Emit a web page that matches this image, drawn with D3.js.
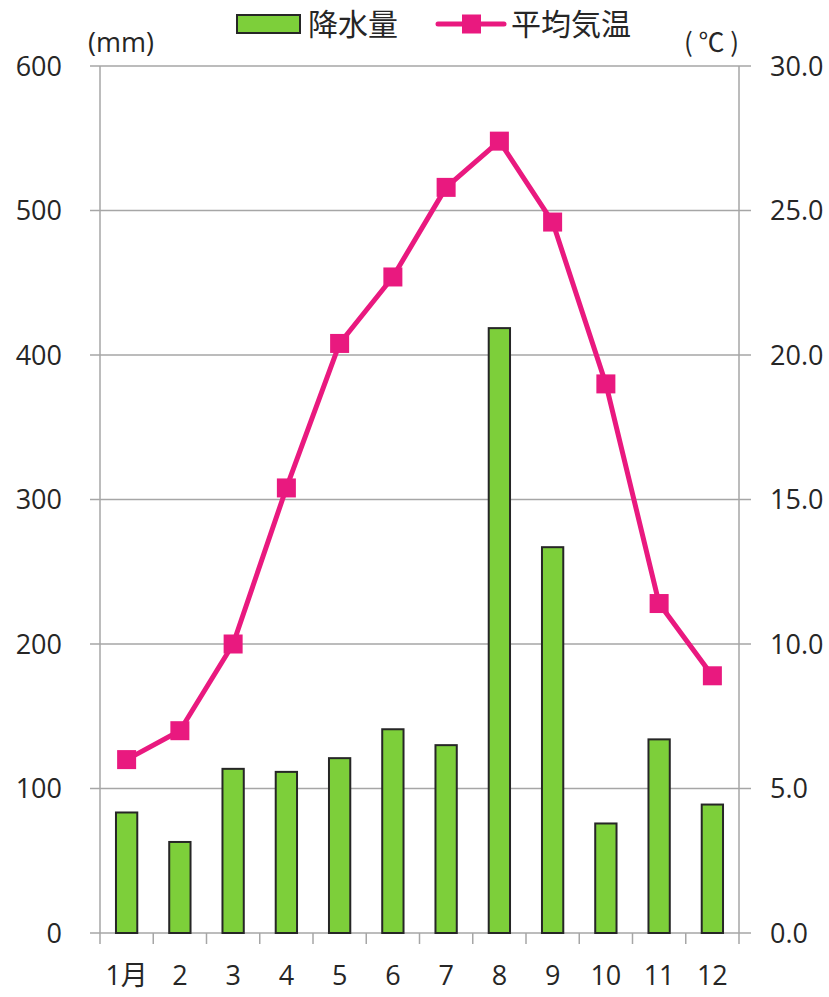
<!DOCTYPE html>
<html>
<head>
<meta charset="utf-8">
<script src="https://cdn.jsdelivr.net/npm/d3@7"></script>
<style>
  body { margin: 0; background: #fff; }
  text { font-family: "Open Sans", "Noto Sans CJK JP", sans-serif; fill: #262626; }
  text.cjk { font-family: "Noto Sans CJK JP", sans-serif; }
</style>
</head>
<body>
<div id="plot"></div>
<script>
// data
const months = ["1月", "2", "3", "4", "5", "6", "7", "8", "9", "10", "11", "12"];
const rain = [83.4, 63, 113.6, 111.5, 121, 141, 130, 418.6, 267, 75.8, 134, 88.9];
const temp = [6.0, 7.0, 10.0, 15.4, 20.4, 22.7, 25.8, 27.4, 24.6, 19.0, 11.4, 8.9];
const rainTicks = [0, 100, 200, 300, 400, 500, 600];
const tempTicks = [0, 5, 10, 15, 20, 25, 30];

const margin = { top: 66, right: 90, bottom: 64, left: 100 };
const W = 829, H = 997;
const width = W - margin.left - margin.right;
const height = H - margin.top - margin.bottom;

const green = "#7dcf3a", pink = "#e9197f", grid = "#a6a6a6";

const svg = d3.select("#plot").append("svg")
    .attr("width", W)
    .attr("height", H);

const g = svg.append("g")
    .attr("transform", `translate(${margin.left},${margin.top})`);

// scales
const x = d3.scaleBand()
    .domain(months)
    .range([0, width])
    .paddingInner(0.6)
    .paddingOuter(0.3);

const yL = d3.scaleLinear().domain([0, 600]).range([height, 0]);
const yR = d3.scaleLinear().domain([0, 30]).range([height, 0]);

// gridlines (with the outward ticks on both sides)
g.append("g").selectAll("line")
  .data(rainTicks)
  .join("line")
    .attr("x1", -10).attr("x2", width + 12)
    .attr("y1", d => yL(d)).attr("y2", d => yL(d))
    .attr("stroke", grid).attr("stroke-width", 1.5);

// vertical axes
g.append("line")
    .attr("x1", 0).attr("x2", 0).attr("y1", 0).attr("y2", height + 11)
    .attr("stroke", grid).attr("stroke-width", 1.5);
g.append("line")
    .attr("x1", width).attr("x2", width).attr("y1", 0).attr("y2", height + 11)
    .attr("stroke", grid).attr("stroke-width", 1.5);

// category boundary ticks on x axis
const bounds = months.map(m => x(m) - x.step() * x.paddingInner() / 2);
g.append("g").selectAll("line")
  .data(bounds.slice(1))
  .join("line")
    .attr("x1", d => d).attr("x2", d => d)
    .attr("y1", height).attr("y2", height + 11)
    .attr("stroke", grid).attr("stroke-width", 1.5);

// tick labels
g.append("g").selectAll("text")
  .data(rainTicks)
  .join("text")
    .attr("x", -38)
    .attr("y", d => yL(d))
    .attr("dy", "0.36em")
    .attr("text-anchor", "end")
    .style("font-size", "27px")
    .text(d => d);

g.append("g").selectAll("text")
  .data(tempTicks)
  .join("text")
    .attr("x", width + 31)
    .attr("y", d => yR(d))
    .attr("dy", "0.36em")
    .style("font-size", "27px")
    .text(d => d.toFixed(1));

g.append("g").selectAll("text")
  .data(months)
  .join("text")
    .attr("x", d => x(d) + x.bandwidth() / 2)
    .attr("y", height + 52)
    .attr("text-anchor", "middle")
    .style("font-size", "27px")
    .text(d => d);

// units
g.append("text")
    .attr("x", -12).attr("y", -14)
    .style("font-size", "27px")
    .text("(mm)");
g.append("text")
    .attr("class", "cjk")
    .attr("x", width - 55).attr("y", -14)
    .attr("textLength", 55)
    .style("font-size", "26px")
    .text("(℃)");

// bars
g.append("g").selectAll("rect")
  .data(rain)
  .join("rect")
    .attr("x", (d, i) => x(months[i]))
    .attr("y", d => yL(d))
    .attr("width", x.bandwidth())
    .attr("height", d => height - yL(d))
    .attr("fill", green)
    .attr("stroke", "#262626")
    .attr("stroke-width", 2);

// temperature line
const line = d3.line()
    .x((d, i) => x(months[i]) + x.bandwidth() / 2)
    .y(d => yR(d));

g.append("path")
    .datum(temp)
    .attr("fill", "none")
    .attr("stroke", pink)
    .attr("stroke-width", 5)
    .attr("stroke-linejoin", "round")
    .attr("d", line);

g.append("g").selectAll("rect")
  .data(temp)
  .join("rect")
    .attr("x", (d, i) => x(months[i]) + x.bandwidth() / 2 - 9.5)
    .attr("y", d => yR(d) - 9.5)
    .attr("width", 19)
    .attr("height", 19)
    .attr("fill", pink);

// legend
const leg = svg.append("g");
leg.append("rect")
    .attr("x", 237).attr("y", 15).attr("width", 63).attr("height", 18)
    .attr("fill", green).attr("stroke", "#262626").attr("stroke-width", 2);
leg.append("text")
    .attr("class", "cjk")
    .attr("x", 308).attr("y", 24).attr("dy", "0.35em")
    .style("font-size", "30px")
    .text("降水量");
leg.append("line")
    .attr("x1", 438).attr("x2", 504).attr("y1", 24).attr("y2", 24)
    .attr("stroke", pink).attr("stroke-width", 5).attr("stroke-linecap", "round");
leg.append("rect")
    .attr("x", 462).attr("y", 14.5).attr("width", 19).attr("height", 19)
    .attr("fill", pink);
leg.append("text")
    .attr("class", "cjk")
    .attr("x", 511).attr("y", 24).attr("dy", "0.35em")
    .style("font-size", "30px")
    .text("平均気温");
</script>
</body>
</html>
